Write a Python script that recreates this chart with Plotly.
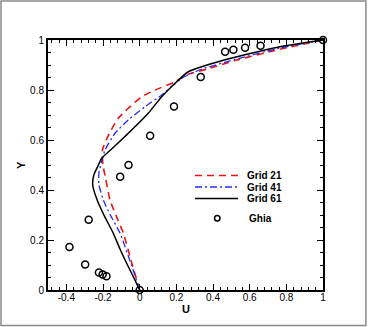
import plotly.graph_objects as go

# Ghia et al. reference points
ghia_u = [1.0, 0.65928, 0.57492, 0.51117, 0.46604, 0.33304, 0.18719, 0.05702,
          -0.0608, -0.10648, -0.27805, -0.38289, -0.2973, -0.2222, -0.20196, -0.18109, 0.0]
ghia_y = [1.0, 0.9766, 0.9688, 0.9609, 0.9531, 0.8516, 0.7344, 0.6172,
          0.5, 0.4531, 0.2813, 0.1719, 0.1016, 0.0703, 0.0625, 0.0547, 0.0]

# Grid 21
g21_u = [0, -0.04, -0.089, -0.13, -0.162, -0.184, -0.2, -0.203, -0.165, -0.116, -0.062,
         0.011, 0.084, 0.193, 0.265, 0.374, 0.52, 0.765, 1.0]
g21_y = [0, 0.1, 0.227, 0.3, 0.36, 0.44, 0.5, 0.56, 0.627, 0.687, 0.727,
         0.773, 0.8, 0.833, 0.863, 0.885, 0.918, 0.963, 1.0]

# Grid 41
g41_u = [0, -0.045, -0.107, -0.16, -0.198, -0.222, -0.222, -0.205, -0.189, -0.134, -0.062,
         0.029, 0.12, 0.229, 0.338, 0.52, 0.765, 1.0]
g41_y = [0, 0.1, 0.227, 0.3, 0.36, 0.42, 0.47, 0.52, 0.56, 0.627, 0.68,
         0.733, 0.78, 0.847, 0.883, 0.922, 0.968, 1.0]

# Grid 61
g61_u = [0, -0.036, -0.071, -0.108, -0.144, -0.195, -0.232, -0.256, -0.25, -0.225, -0.207,
         -0.15, -0.062, 0.047, 0.12, 0.193, 0.265, 0.338, 0.447, 0.52, 0.765, 1.0]
g61_y = [0, 0.055, 0.107, 0.165, 0.227, 0.3, 0.36, 0.42, 0.46, 0.5, 0.527,
         0.566, 0.627, 0.707, 0.773, 0.827, 0.873, 0.893, 0.917, 0.931, 0.973, 1.0]

x_ticks = [-0.4, -0.2, 0, 0.2, 0.4, 0.6, 0.8, 1]
x_labels = ['-0.4', '-0.2', '0', '0.2', '0.4', '0.6', '0.8', '1']
y_ticks = [0, 0.2, 0.4, 0.6, 0.8, 1]
y_labels = ['0', '0.2', '0.4', '0.6', '0.8', '1']

RED = 'rgb(235,20,20)'
BLUE = 'rgb(40,40,255)'
DASH = '7px,5px'
DASHDOT = '7px,3px,2px,3px'

fig = go.Figure()
fig.add_trace(go.Scatter(x=g21_u, y=g21_y, mode='lines', name='Grid 21',
                         line=dict(color=RED, width=1.6, dash=DASH, shape='spline', smoothing=0.6)))
fig.add_trace(go.Scatter(x=g41_u, y=g41_y, mode='lines', name='Grid 41',
                         line=dict(color=BLUE, width=1.3, dash=DASHDOT, shape='spline', smoothing=0.6)))
fig.add_trace(go.Scatter(x=g61_u, y=g61_y, mode='lines', name='Grid 61',
                         line=dict(color='black', width=1.5, shape='spline', smoothing=0.6)))
fig.add_trace(go.Scatter(x=ghia_u, y=ghia_y, mode='markers', name='Ghia', cliponaxis=False,
                         marker=dict(symbol='circle-open', size=7, color='black',
                                     line=dict(width=1.5, color='black'))))

axis_common = dict(
    showgrid=False, zeroline=False, showline=True, linecolor='black', linewidth=2,
    mirror='ticks', ticks='inside', ticklen=6, tickwidth=1, tickcolor='black',
    tickfont=dict(family='Liberation Sans, Arial', size=10, color='black'),
)

fig.update_layout(
    width=368, height=327,
    paper_bgcolor='white', plot_bgcolor='white',
    showlegend=False,
    margin=dict(l=48, r=45, t=40, b=37),
    xaxis=dict(axis_common, range=[-0.5, 1], tickvals=x_ticks, ticktext=x_labels,
               ticklabelstandoff=-3,
               minor=dict(dtick=0.04, tick0=0, ticks='inside', ticklen=3, tickcolor='black')),
    yaxis=dict(axis_common, range=[0, 1], tickvals=y_ticks, ticktext=y_labels,
               minor=dict(dtick=0.05, tick0=0, ticks='inside', ticklen=3, tickcolor='black')),
    font=dict(family='Liberation Sans, Arial', color='black'),
)

# axis titles
fig.add_annotation(text='<b>U</b>', xref='paper', yref='paper', x=0.5, y=-0.074,
                   xanchor='center', yanchor='middle', showarrow=False, font=dict(size=11))
fig.add_annotation(text='<b>Y</b>', xref='paper', yref='paper', x=-0.098, y=0.5,
                   xanchor='center', yanchor='middle', showarrow=False, textangle=-90,
                   font=dict(size=11))

# outer frame
fig.add_shape(type='rect', xref='paper', yref='paper', x0=-0.1709, x1=1.156, y0=-0.142, y1=1.156,
              line=dict(color='#8a8a8a', width=1.5), layer='below')

# legend
px = lambda p: (p - 48) / 275
py = lambda p: (290 - p) / 250
leg_rows = [('Grid 21', RED, DASH, 175.5), ('Grid 41', BLUE, DASHDOT, 187),
            ('Grid 61', 'black', 'solid', 198.5)]
for name, col, dash, yy in leg_rows:
    fig.add_shape(type='line', xref='paper', yref='paper', x0=px(195), x1=px(238),
                  y0=py(yy), y1=py(yy), line=dict(color=col, width=1.5, dash=dash))
    fig.add_annotation(text='<b>' + name + '</b>', xref='paper', yref='paper', x=px(245), y=py(yy),
                       xanchor='left', yanchor='middle', showarrow=False, font=dict(size=10))
fig.add_shape(type='circle', xref='paper', yref='paper', x0=px(214.5), x1=px(220),
              y0=py(221), y1=py(215.5), line=dict(color='black', width=1.5))
fig.add_annotation(text='<b>Ghia</b>', xref='paper', yref='paper', x=px(247), y=py(218),
                   xanchor='left', yanchor='middle', showarrow=False, font=dict(size=10))

fig.write_html("out.html", config={'displayModeBar': False},
               post_script="document.body.style.margin='0';")
